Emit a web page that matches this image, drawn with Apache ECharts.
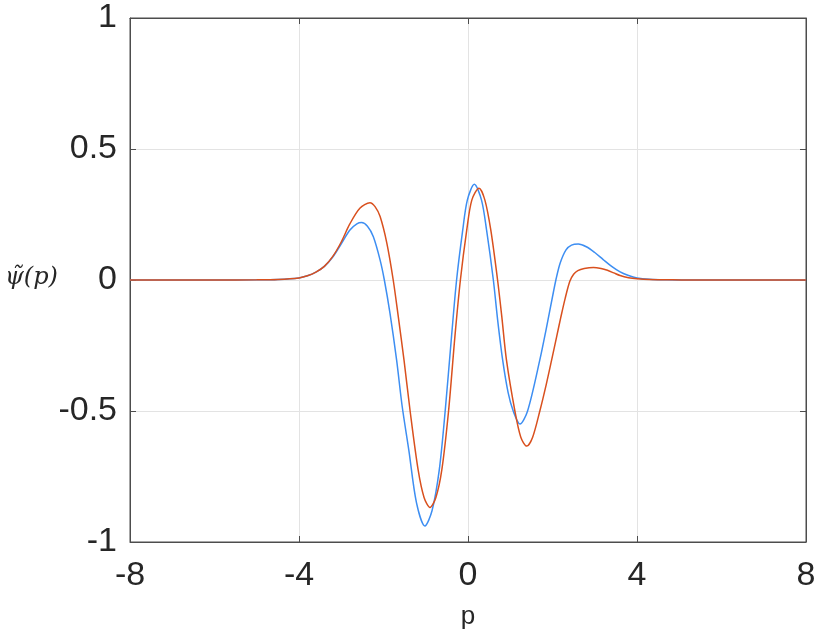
<!DOCTYPE html>
<html>
<head>
<meta charset="utf-8">
<script src="https://cdn.jsdelivr.net/npm/echarts@6/dist/echarts.min.js"></script>
<style>
html,body{margin:0;padding:0;background:#fff;}
#chart{width:832px;height:638px;}
</style>
</head>
<body>
<div id="chart"></div>
<script>
const xTicks = [-8, -4, 0, 4, 8];
const yTicks = [-1, -0.5, 0, 0.5, 1];

const pBlue = [-8, -6, -5, -4.5, -4.0, -3.8, -3.6, -3.4, -3.2, -3.0, -2.8, -2.63, -2.52, -2.38, -2.24, -2.08, -1.98, -1.846, -1.69, -1.56, -1.40, -1.22, -1.02, -0.85, -0.68, -0.54, -0.39, -0.27, -0.125, -0.016, 0.15, 0.32, 0.44, 0.60, 0.70, 0.82, 0.95, 1.07, 1.23, 1.41, 1.70, 1.846, 2.00, 2.08, 2.18, 2.32, 2.45, 2.61, 2.80, 3.00, 3.20, 3.40, 3.60, 3.80, 4.0, 4.3, 4.7, 5.2, 6, 8];
const vBlue = [0, 0, 0.0005, 0.002, 0.008, 0.016, 0.030, 0.052, 0.088, 0.138, 0.19, 0.214, 0.219, 0.205, 0.165, 0.076, 0, -0.127, -0.305, -0.48, -0.65, -0.85, -0.939, -0.88, -0.725, -0.5, -0.216, 0, 0.19, 0.305, 0.365, 0.305, 0.19, 0, -0.15, -0.305, -0.43, -0.5, -0.55, -0.5, -0.305, -0.191, -0.064, 0, 0.064, 0.115, 0.133, 0.137, 0.127, 0.105, 0.078, 0.052, 0.031, 0.017, 0.008, 0.003, 0.001, 0, 0, 0];

const pRed = [-8, -6, -5, -4.5, -4.0, -3.8, -3.6, -3.4, -3.2, -3.0, -2.8, -2.56, -2.32, -2.20, -2.08, -1.92, -1.77, -1.65, -1.515, -1.37, -1.18, -1.04, -0.90, -0.76, -0.62, -0.46, -0.31, -0.18, -0.03, 0.09, 0.26, 0.40, 0.54, 0.70, 0.80, 0.91, 1.11, 1.25, 1.39, 1.53, 1.70, 1.85, 1.98, 2.10, 2.20, 2.30, 2.41, 2.50, 2.60, 2.75, 2.97, 3.15, 3.30, 3.45, 3.60, 3.80, 4.0, 4.3, 4.7, 5.2, 6, 8];
const vRed = [0, 0, 0.0005, 0.002, 0.008, 0.016, 0.030, 0.052, 0.090, 0.145, 0.213, 0.274, 0.295, 0.28, 0.242, 0.14, 0, -0.14, -0.305, -0.5, -0.725, -0.83, -0.868, -0.83, -0.725, -0.5, -0.216, 0, 0.19, 0.305, 0.35, 0.305, 0.19, 0, -0.14, -0.305, -0.5, -0.6, -0.634, -0.6, -0.5, -0.40, -0.305, -0.215, -0.14, -0.07, -0.005, 0.022, 0.036, 0.044, 0.048, 0.044, 0.037, 0.027, 0.017, 0.009, 0.005, 0.002, 0.001, 0, 0, 0];

const blueData = pBlue.map((p, i) => [p, vBlue[i]]);
const redData = pRed.map((p, i) => [p, vRed[i]]);

const axisColor = '#4d4d4d';
const textColor = '#262626';
const font = 'Liberation Sans, Arial, sans-serif';
const chart = echarts.init(document.getElementById('chart'));
chart.setOption({
  animation: false,
  backgroundColor: '#ffffff',
  grid: {left: 130, right: 26, top: 18, bottom: 96, show: true, borderColor: axisColor, borderWidth: 1},
  xAxis: [{
    type: 'value', min: -8, max: 8, interval: 4,
    name: 'p', nameLocation: 'middle', nameGap: 62,
    nameTextStyle: {fontSize: 26, color: textColor, fontFamily: font},
    axisLine: {show: true, onZero: false, lineStyle: {color: axisColor, width: 1}},
    axisTick: {show: true, inside: true, length: 6, lineStyle: {color: axisColor}},
    axisLabel: {fontSize: 34, color: textColor, margin: 17, fontFamily: font,
      formatter: v => String(v)},
    splitLine: {show: true, lineStyle: {color: '#e3e3e3', width: 1}}
  }, {
    type: 'value', min: -8, max: 8, interval: 4, position: 'top',
    axisLine: {show: true, onZero: false, lineStyle: {color: axisColor}},
    axisTick: {show: true, inside: true, length: 6, lineStyle: {color: axisColor}},
    axisLabel: {show: false}, splitLine: {show: false}
  }],
  yAxis: [{
    type: 'value', min: -1, max: 1, interval: 0.5,
    axisLine: {show: true, onZero: false, lineStyle: {color: axisColor, width: 1}},
    axisTick: {show: true, inside: true, length: 6, lineStyle: {color: axisColor}},
    axisLabel: {fontSize: 34, color: textColor, margin: 13, fontFamily: font,
      formatter: v => String(v)},
    splitLine: {show: true, lineStyle: {color: '#e3e3e3', width: 1}}
  }, {
    type: 'value', min: -1, max: 1, interval: 0.5, position: 'right',
    axisLine: {show: true, onZero: false, lineStyle: {color: axisColor}},
    axisTick: {show: true, inside: true, length: 6, lineStyle: {color: axisColor}},
    axisLabel: {show: false}, splitLine: {show: false}
  }],
  graphic: [{
    type: 'text', left: 5, top: 266,
    style: {text: 'ψ\u0303(p)', font: 'italic 24px "DejaVu Serif", "Liberation Serif", serif', fill: textColor}
  }],
  series: [{
    type: 'line', data: blueData, smooth: 0.3, showSymbol: false,
    lineStyle: {color: '#3d8ef2', width: 1.5}, z: 3
  }, {
    type: 'line', data: redData, smooth: 0.3, showSymbol: false,
    lineStyle: {color: '#d9501e', width: 1.5}, z: 4
  }]
});
</script>
</body>
</html>
